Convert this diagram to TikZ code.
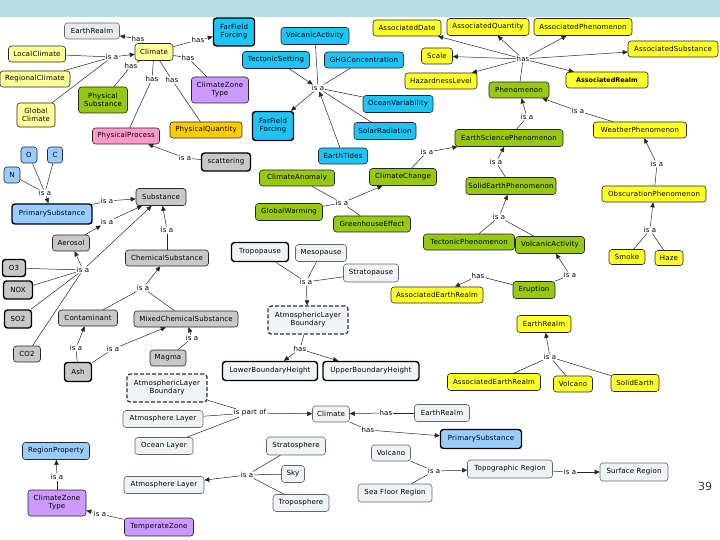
\documentclass[tikz,border=0pt]{standalone}
\usepackage{fontspec}
\setmainfont{DejaVu Sans}
\newfontfamily\cmf[LetterSpace=2.5]{DejaVu Sans}
\usetikzlibrary{arrows.meta}
\definecolor{cband}{RGB}{184,222,226}
\definecolor{cyel}{RGB}{255,255,40}
\definecolor{cpyel}{RGB}{255,255,153}
\definecolor{cgrn}{RGB}{150,200,20}
\definecolor{ccya}{RGB}{30,196,245}
\definecolor{cblu}{RGB}{153,204,255}
\definecolor{cgry}{RGB}{200,200,200}
\definecolor{clgt}{RGB}{238,243,246}
\definecolor{cpur}{RGB}{204,153,255}
\definecolor{cpnk}{RGB}{255,153,204}
\definecolor{corg}{RGB}{255,204,0}
\definecolor{cerl}{RGB}{230,236,238}
\newcommand\fsz{\cmf\fontsize{7}{8}\selectfont}
\newcommand\cn[7]{\node[box,#6,minimum width=#4pt,minimum height=#5pt] (#1) at (#2,#3) {#7};}
\begin{document}
\begin{tikzpicture}[x=1pt,y=-1pt,
  box/.style={draw=black!85, rounded corners=3pt, inner sep=1pt, align=center, font=\fsz, line width=0.6pt},
  thk/.style={line width=1.4pt, draw=black},
  dsh/.style={line width=1.2pt, draw=black!80, dash pattern=on 4pt off 2pt},
  yel/.style={fill=cyel}, pyel/.style={fill=cpyel}, grn/.style={fill=cgrn},
  cya/.style={fill=ccya}, blu/.style={fill=cblu}, gry/.style={fill=cgry},
  lgt/.style={fill=clgt, draw=black!60}, pur/.style={fill=cpur}, pnk/.style={fill=cpnk},
  org/.style={fill=corg}, erl/.style={fill=cerl, draw=black!60},
  lnk/.style={fill=white, inner sep=0.6pt, font=\fsz},
  ln/.style={draw=black!85, line width=0.5pt},
  arr/.style={ln, -{Triangle[length=5pt,width=4.5pt]}}]
\useasboundingbox (0,0) rectangle (720,540);
\fill[cband] (0,0) rectangle (720,17);
% concepts
\cn{erA}{92}{31}{55}{16}{erl}{EarthRealm}
\cn{lcl}{37}{54}{57}{16}{pyel}{LocalClimate}
\cn{rcl}{35}{79}{70}{16}{pyel}{RegionalClimate}
\cn{gcl}{36}{115}{38}{24}{pyel}{Global\\Climate}
\cn{clt}{154}{52}{38}{17}{pyel}{Climate}
\cn{phs}{103}{100}{49}{26}{grn}{Physical\\Substance}
\cn{php}{126}{136}{67}{16}{pnk}{PhysicalProcess}
\cn{phq}{206}{130}{72}{16}{org}{PhysicalQuantity}
\cn{czt}{220}{90}{57}{26}{pur}{ClimateZone\\Type}
\cn{ffa}{234}{32}{41}{28}{cya,thk}{FarField\\Forcing}
\cn{vac}{315}{36}{68}{17}{cya}{VolcanicActivity}
\cn{tes}{276}{60}{67}{17}{cya}{TectonicSetting}
\cn{ghg}{364}{60}{79}{16}{cya}{GHGConcentration}
\cn{ffb}{273}{126}{41}{29}{cya,thk}{FarField\\Forcing}
\cn{ocv}{398}{104}{70}{17}{cya}{OceanVariability}
\cn{sor}{385}{131}{62}{17}{cya}{SolarRadiation}
\cn{etd}{343}{156}{49}{16}{cya}{EarthTides}
\cn{sca}{226}{162}{49}{18}{gry,thk}{scattering}
\cn{cla}{297}{178}{75}{16}{grn}{ClimateAnomaly}
\cn{adt}{407}{28}{68}{16}{yel}{AssociatedDate}
\cn{aqt}{488}{27}{82}{17}{yel}{AssociatedQuantity}
\cn{aph}{583}{27}{98}{17}{yel}{AssociatedPhenomenon}
\cn{asb}{673}{49}{90}{16}{yel}{AssociatedSubstance}
\cn{arl}{607}{80}{82}{16}{yel,font=\fontsize{6.4}{7.5}\selectfont\bfseries}{AssociatedRealm}
\cn{scl}{437}{56}{31}{16}{yel}{Scale}
\cn{hzl}{441}{81}{72}{16}{yel}{HazardnessLevel}
\cn{phe}{519}{90}{60}{16}{grn}{Phenomenon}
\cn{esp}{509}{138}{108}{17}{grn}{EarthSciencePhenomenon}
\cn{wph}{640}{130}{93}{16}{yel}{WeatherPhenomenon}
\cn{clc}{403}{177}{67}{17}{grn}{ClimateChange}
\cn{sep}{511}{186}{90}{17}{grn}{SolidEarthPhenomenon}
\cn{obp}{654}{194}{104}{16}{yel}{ObscurationPhenomenon}
\cn{glw}{289}{212}{67}{17}{grn}{GlobalWarming}
\cn{ghe}{372}{224}{77}{16}{grn}{GreenhouseEffect}
\cn{tph}{469}{242}{91}{16}{grn}{TectonicPhenomenon}
\cn{vab}{550}{245}{69}{17}{grn}{VolcanicActivity}
\cn{smk}{627}{257}{36}{15}{yel}{Smoke}
\cn{hze}{669}{258}{28}{15}{yel}{Haze}
\cn{trp}{260}{252}{57}{19}{lgt,thk}{Tropopause}
\cn{mes}{321}{253}{51}{17}{lgt}{Mesopause}
\cn{str}{371}{273}{55}{18}{lgt}{Stratopause}
\cn{alb}{308}{320}{80}{28}{lgt,dsh}{AtmosphericLayer\\Boundary}
\cn{lbh}{270}{371}{95}{19}{lgt,thk}{LowerBoundaryHeight}
\cn{ubh}{371}{371}{96}{19}{lgt,thk}{UpperBoundaryHeight}
\cn{aea}{437}{295}{92}{16}{yel}{AssociatedEarthRealm}
\cn{eru}{534}{290}{42}{17}{grn}{Eruption}
\cn{erb}{544}{324}{54}{17}{yel}{EarthRealm}
\cn{aeb}{494}{382}{93}{17}{yel}{AssociatedEarthRealm}
\cn{vol}{573}{384}{39}{16}{yel}{Volcano}
\cn{sde}{635}{383}{48}{17}{yel}{SolidEarth}
\cn{nO}{29}{155}{16}{16}{blu}{O}
\cn{nC}{55}{155}{15}{16}{blu}{C}
\cn{nN}{12}{175}{16}{16}{blu}{N}
\cn{psa}{52}{214}{80}{20}{blu,thk}{PrimarySubstance}
\cn{sub}{161}{197}{50}{17}{gry}{Substance}
\cn{aes}{71}{243}{37}{16}{gry}{Aerosol}
\cn{othree}{14}{268}{23}{17}{gry,thk}{O3}
\cn{nox}{18}{290}{29}{18}{gry,thk}{NOX}
\cn{sotwo}{18}{319}{27}{18}{gry,thk}{SO2}
\cn{cotwo}{27}{354}{27}{16}{gry}{CO2}
\cn{chs}{167}{258}{83}{16}{gry}{ChemicalSubstance}
\cn{con}{88}{318}{59}{16}{gry}{Contaminant}
\cn{mcs}{186}{319}{104}{16}{gry}{MixedChemicalSubstance}
\cn{ash}{78}{372}{27}{19}{gry,thk}{Ash}
\cn{mag}{168}{358}{36}{16}{gry}{Magma}
\cn{alc}{167}{388}{80}{28}{lgt,dsh}{AtmosphericLayer\\Boundary}
\cn{ata}{163}{419}{80}{17}{lgt}{Atmosphere Layer}
\cn{ocl}{164}{446}{58}{17}{lgt}{Ocean Layer}
\cn{clb}{331}{414}{37}{16}{lgt}{Climate}
\cn{erc}{442}{413}{55}{17}{lgt}{EarthRealm}
\cn{psb}{481}{439}{81}{19}{blu,thk}{PrimarySubstance}
\cn{sts}{296}{446}{59}{18}{lgt}{Stratosphere}
\cn{sky}{293}{474}{23}{17}{lgt}{Sky}
\cn{tps}{301}{503}{56}{17}{lgt}{Troposphere}
\cn{atb}{164}{485}{80}{17}{lgt}{Atmosphere Layer}
\cn{vob}{391}{453}{39}{16}{lgt}{Volcano}
\cn{sfr}{395}{493}{74}{18}{lgt}{Sea Floor Region}
\cn{tpr}{510}{469}{85}{18}{lgt}{Topographic Region}
\cn{sur}{634}{472}{68}{18}{lgt}{Surface Region}
\cn{rgp}{56}{451}{67}{17}{blu}{RegionProperty}
\cn{czb}{57}{503}{58}{26}{pur}{ClimateZone\\Type}
\cn{tmz}{159}{527}{69}{18}{pur}{TemperateZone}
% linking phrases
\node[lnk] (h1) at (138,39) {has};
\node[lnk] (h2) at (112,57) {is a};
\node[lnk] (h3) at (131,66) {has};
\node[lnk] (h4) at (152,79) {has};
\node[lnk] (h5) at (172,80) {has};
\node[lnk] (h6) at (198,40) {has};
\node[lnk] (h7) at (188,58) {has};
\node[lnk] (h8) at (185,158) {is a};
\node[lnk] (h9) at (318,88) {is a};
\node[lnk] (h10) at (523,59) {has};
\node[lnk] (h11) at (527,117) {is a};
\node[lnk] (h12) at (578,111) {is a};
\node[lnk] (h13) at (657,164) {is a};
\node[lnk] (h14) at (427,152) {is a};
\node[lnk] (h15) at (496,162) {is a};
\node[lnk] (h16) at (342,203) {is a};
\node[lnk] (h17) at (499,217) {is a};
\node[lnk] (h18) at (650,230) {is a};
\node[lnk] (h19) at (570,275) {is a};
\node[lnk] (h20) at (478,276) {has};
\node[lnk] (h21) at (550,357) {is a};
\node[lnk] (h22) at (306,282) {is a};
\node[lnk] (h23) at (300,349) {has};
\node[lnk] (h24) at (250,413) {is part of};
\node[lnk] (h25) at (386,413) {has};
\node[lnk] (h26) at (368,430) {has};
\node[lnk] (h27) at (247,475) {is a};
\node[lnk] (h28) at (434,471) {is a};
\node[lnk] (h29) at (570,472) {is a};
\node[lnk] (h30) at (57,477) {is a};
\node[lnk] (h31) at (100,514) {is a};
\node[lnk] (h32) at (45,193) {is a};
\node[lnk] (h33) at (107,201) {is a};
\node[lnk] (h34) at (107,222) {is a};
\node[lnk] (h35) at (83,270) {is a};
\node[lnk] (h36) at (167,230) {is a};
\node[lnk] (h37) at (143,288) {is a};
\node[lnk] (h38) at (76,348) {is a};
\node[lnk] (h39) at (113,349) {is a};
\node[lnk] (h40) at (192,338) {is a};
\node[font=\fontsize{11}{13}\selectfont, text=black!80] (pg) at (705,486) {39};
% connectors
\draw[ln] (clt) -- (h1); \draw[arr] (h1) -- (erA);
\draw[ln] (lcl) -- (h2); \draw[ln] (rcl) -- (h2); \draw[ln] (gcl) -- (h2); \draw[arr] (h2) -- (clt);
\draw[ln] (clt) -- (h3); \draw[ln] (h3) -- (phs);
\draw[ln] (clt) -- (h4); \draw[ln] (h4) -- (php);
\draw[ln] (clt) -- (h5); \draw[ln] (h5) -- (phq);
\draw[ln] (clt) -- (h6); \draw[arr] (h6) -- (ffa);
\draw[ln] (clt) -- (h7); \draw[ln] (h7) -- (czt);
\draw[ln] (sca) -- (h8); \draw[arr] (h8) -- (php);
\draw[ln] (vac) -- (h9); \draw[arr] (tes) -- (h9); \draw[ln] (ghg) -- (h9);
\draw[ln] (ocv) -- (h9); \draw[ln] (sor) -- (h9); \draw[arr] (etd) -- (h9);
\draw[arr] (h9) -- (ffb);
\draw[ln] (phe) -- (h10);
\foreach \t in {adt,aqt,aph,asb,arl,scl,hzl} \draw[arr] (h10) -- (\t);
\draw[ln] (esp) -- (h11); \draw[arr] (h11) -- (phe);
\draw[ln] (wph) -- (h12); \draw[arr] (h12) -- (phe);
\draw[ln] (obp) -- (h13); \draw[arr] (h13) -- (wph);
\draw[ln] (clc) -- (h14); \draw[arr] (h14) -- (esp);
\draw[ln] (sep) -- (h15); \draw[arr] (h15) -- (esp);
\draw[ln] (cla) -- (h16); \draw[ln] (glw) -- (h16); \draw[ln] (ghe) -- (h16); \draw[arr] (h16) -- (clc);
\draw[ln] (tph) -- (h17); \draw[ln] (vab) -- (h17); \draw[arr] (h17) -- (sep);
\draw[ln] (smk) -- (h18); \draw[ln] (hze) -- (h18); \draw[arr] (h18) -- (obp);
\draw[ln] (eru) -- (h19); \draw[arr] (h19) -- (vab);
\draw[ln] (eru) -- (h20); \draw[arr] (h20) -- (aea);
\draw[ln] (aeb) -- (h21); \draw[ln] (vol) -- (h21); \draw[ln] (sde) -- (h21); \draw[arr] (h21) -- (erb);
\draw[ln] (trp) -- (h22); \draw[ln] (mes) -- (h22); \draw[ln] (str) -- (h22); \draw[arr] (h22) -- (alb);
\draw[ln] (alb) -- (h23); \draw[arr] (h23) -- (lbh); \draw[arr] (h23) -- (ubh);
\draw[ln] (alc) -- (h24); \draw[ln] (ata) -- (h24); \draw[ln] (ocl) -- (h24); \draw[arr] (h24) -- (clb);
\draw[ln] (erc) -- (h25); \draw[arr] (h25) -- (clb);
\draw[ln] (clb) -- (h26); \draw[arr] (h26) -- (psb);
\draw[ln] (sts) -- (h27); \draw[ln] (sky) -- (h27); \draw[ln] (tps) -- (h27); \draw[arr] (h27) -- (atb);
\draw[ln] (vob) -- (h28); \draw[ln] (sfr) -- (h28); \draw[arr] (h28) -- (tpr);
\draw[ln] (tpr) -- (h29); \draw[arr] (h29) -- (sur);
\draw[ln] (czb) -- (h30); \draw[arr] (h30) -- (rgp);
\draw[ln] (tmz) -- (h31); \draw[arr] (h31) -- (czb);
\draw[ln] (nO) -- (h32); \draw[ln] (nC) -- (h32); \draw[ln] (nN) -- (h32); \draw[arr] (h32) -- (psa);
\draw[ln] (psa) -- (h33); \draw[arr] (h33) -- (sub);
\draw[arr] (aes) -- (h34); \draw[arr] (h34) -- (sub);
\draw[ln] (othree) -- (h35); \draw[ln] (nox) -- (h35); \draw[ln] (sotwo) -- (h35); \draw[ln] (cotwo) -- (h35);
\draw[arr] (h35) -- (aes); \draw[arr] (h35) -- (sub);
\draw[ln] (chs) -- (h36); \draw[arr] (h36) -- (sub);
\draw[ln] (con) -- (h37); \draw[ln] (mcs) -- (h37); \draw[arr] (h37) -- (chs);
\draw[ln] (ash) -- (h38); \draw[arr] (h38) -- (con);
\draw[ln] (ash) -- (h39); \draw[arr] (h39) -- (mcs);
\draw[ln] (mag) -- (h40); \draw[arr] (h40) -- (mcs);
\end{tikzpicture}
\end{document}
